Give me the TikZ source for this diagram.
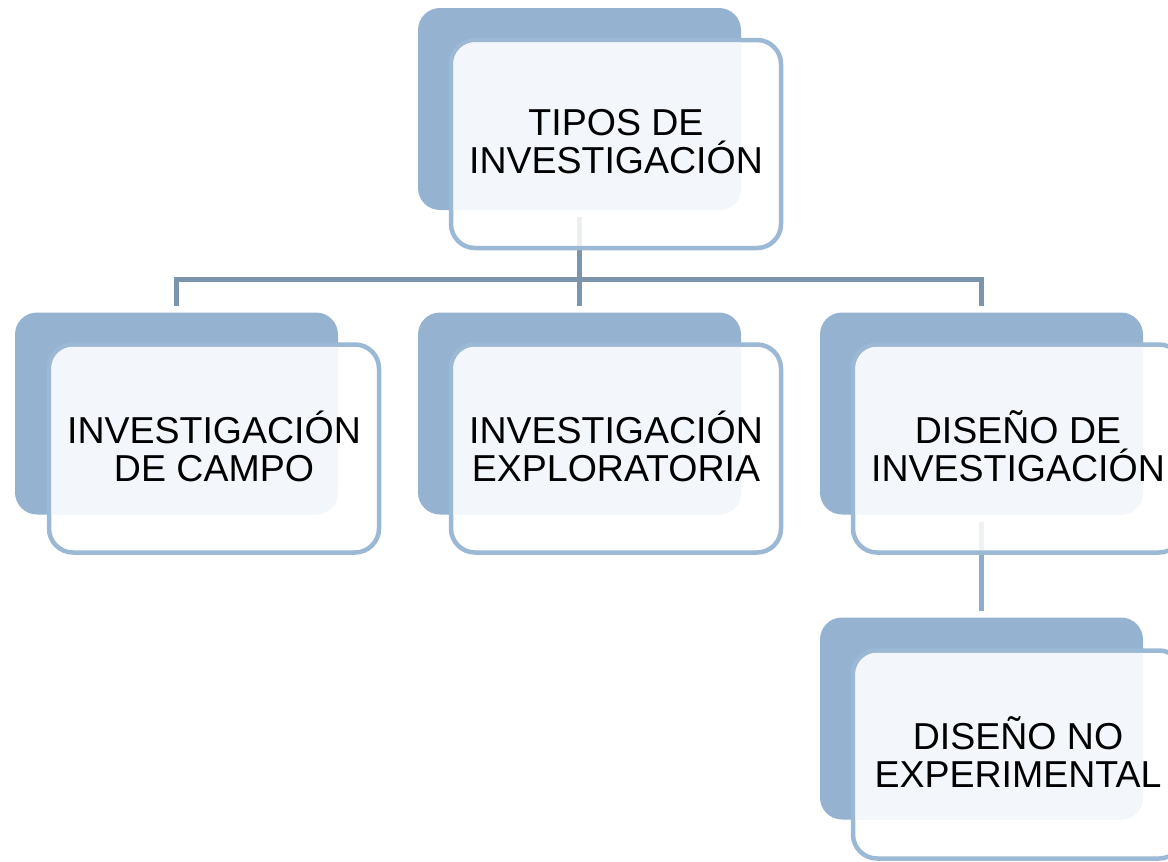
\documentclass[tikz,border=0pt]{standalone}
\usepackage{fontspec}
\setmainfont{Liberation Sans}
\usetikzlibrary{backgrounds}
\definecolor{backblue}{HTML}{95B3D1}
\definecolor{frontline}{HTML}{9BB8D5}
\definecolor{lightfill}{HTML}{F3F6FA}
\definecolor{busline}{HTML}{7C94AC}
\definecolor{subline}{HTML}{8FADC9}
\tikzset{
  backbox/.style={fill=backblue, draw=none, rounded corners=22pt, minimum width=323pt, minimum height=202pt, inner sep=0pt, outer sep=0pt},
  frontbox/.style={fill=white, fill opacity=0.85, draw=frontline, draw opacity=1, line width=4.5pt, rounded corners=24pt, minimum width=330pt, minimum height=208pt, inner sep=0pt, outer sep=0pt},
  boxlabel/.style={font=\fontsize{37.5pt}{38pt}\selectfont, align=center, text=black, inner sep=0pt},
  conn/.style={line width=5pt, draw=busline, shorten <=7pt, shorten >=7pt},
  subconn/.style={line width=5pt, draw=subline, shorten <=7pt, shorten >=7pt},
}
\newcommand{\diagitem}[6]{%
  \node[backbox] (#1b) at (#2,#3) {};
  \node[frontbox] (#1f) at (#4,#5) {};
  \begin{scope}
    \clip[rounded corners=22pt] (#1b.south west) rectangle (#1b.north east);
    \fill[lightfill, rounded corners=21.75pt] ([shift={(2.25pt,2.25pt)}]#1f.south west) rectangle ([shift={(-2.25pt,-2.25pt)}]#1f.north east);
  \end{scope}
  \node[boxlabel] (#1t) at (#4,#5-2) {#6};
}
\begin{document}
\begin{tikzpicture}[x=1pt,y=-1pt]
  \useasboundingbox (0,0) rectangle (1168,862);
  \diagitem{t}{579.5}{109}{616}{144}{TIPOS DE\\INVESTIGACIÓN}
  \diagitem{l}{176.5}{413.5}{214}{448.5}{INVESTIGACIÓN\\DE CAMPO}
  \diagitem{m}{579.5}{413.5}{616}{448.5}{INVESTIGACIÓN\\EXPLORATORIA}
  \diagitem{r}{981.5}{413.5}{1018}{448.5}{DISEÑO DE\\INVESTIGACIÓN}
  \diagitem{n}{981.5}{718.5}{1018}{754.5}{DISEÑO NO\\EXPERIMENTAL}
  \coordinate (bus) at (579.5,279);
  \begin{pgfonlayer}{background}
    \draw[conn] (tb.south) -- (mb.north);
    \draw[conn] (lb.north) -- (lb.north |- bus) -- (rb.north |- bus) -- (rb.north);
    \draw[subconn] (rb.south) -- (nb.north);
  \end{pgfonlayer}
\end{tikzpicture}
\end{document}
